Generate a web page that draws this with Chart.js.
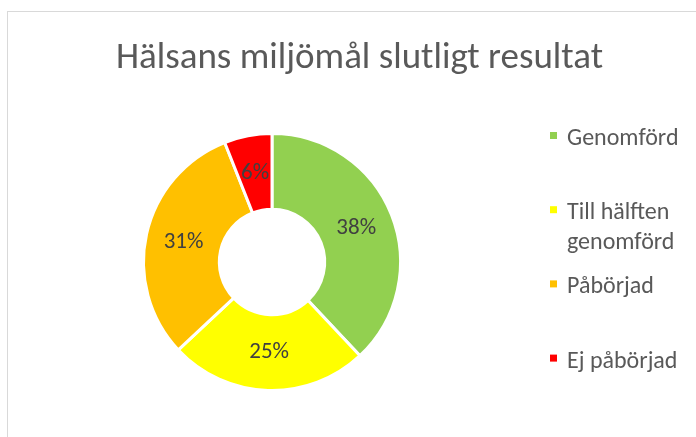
<!DOCTYPE html>
<html><head><meta charset="utf-8">
<script src="https://cdn.jsdelivr.net/npm/chart.js@4/dist/chart.umd.min.js"></script>
<style>
html,body{margin:0;padding:0;background:#fff;overflow:hidden;width:696px;height:437px;}
#box{position:absolute;left:7px;top:11px;width:703px;height:430px;border:1px solid #d9d9d9;}
canvas{display:block;}
</style></head><body>
<div id="box"><canvas id="c" width="703" height="430"></canvas></div>
<script>
const chartTitle = 'Hälsans miljömål slutligt resultat';
const categories = ['Genomförd', 'Till hälften genomförd', 'Påbörjad', 'Ej påbörjad'];
const legendLines = [['Genomförd'], ['Till hälften', 'genomförd'], ['Påbörjad'], ['Ej påbörjad']];
const percentages = [38, 25, 31, 6];
const sliceColors = ['#92D050', '#FFFF00', '#FFC000', '#FF0000'];

const FONT = 'Calibri, Carlito, Lato, sans-serif';

const titlePlugin = {
  id: 'excelTitle',
  afterDraw(chart) {
    const ctx = chart.ctx;
    ctx.save();
    ctx.fillStyle = '#595959';
    ctx.font = '37px ' + FONT;
    ctx.textAlign = 'center';
    ctx.textBaseline = 'alphabetic';
    ctx.fillText(chartTitle, chart.width / 2, 56);
    ctx.restore();
  }
};

const legendPlugin = {
  id: 'excelLegend',
  afterDraw(chart) {
    const ctx = chart.ctx;
    ctx.save();
    ctx.font = '24px ' + FONT;
    ctx.textAlign = 'left';
    ctx.textBaseline = 'alphabetic';
    chart.data.labels.forEach((lab, i) => {
      const cy = 123.5 + i * 74.2;
      ctx.fillStyle = chart.data.datasets[0].backgroundColor[i];
      ctx.fillRect(542, cy - 3.5, 7, 7);
      ctx.fillStyle = '#595959';
      legendLines[i].forEach((line, j) => {
        ctx.fillText(line, 559, cy + 9.5 + j * 30);
      });
    });
    ctx.restore();
  }
};

const labelPlugin = {
  id: 'sliceLabels',
  afterDatasetsDraw(chart) {
    const ctx = chart.ctx;
    const meta = chart.getDatasetMeta(0);
    ctx.save();
    ctx.font = '23px ' + FONT;
    ctx.fillStyle = '#404040';
    ctx.textAlign = 'center';
    ctx.textBaseline = 'middle';
    meta.data.forEach((arc, i) => {
      const p = arc.tooltipPosition();
      ctx.fillText(chart.data.datasets[0].data[i] + '%', p.x, p.y);
    });
    ctx.restore();
  }
};

new Chart(document.getElementById('c'), {
  type: 'doughnut',
  data: {
    labels: categories,
    datasets: [{
      data: percentages,
      backgroundColor: sliceColors,
      borderColor: '#ffffff',
      borderWidth: 3,
      hoverOffset: 0
    }]
  },
  options: {
    responsive: false,
    animation: false,
    devicePixelRatio: 1,
    cutout: '41%',
    layout: { padding: { left: 134, right: 309, top: 120, bottom: 50 } },
    plugins: {
      legend: { display: false },
      title: { display: false },
      tooltip: { enabled: false }
    }
  },
  plugins: [titlePlugin, legendPlugin, labelPlugin]
});
</script>
</body></html>
